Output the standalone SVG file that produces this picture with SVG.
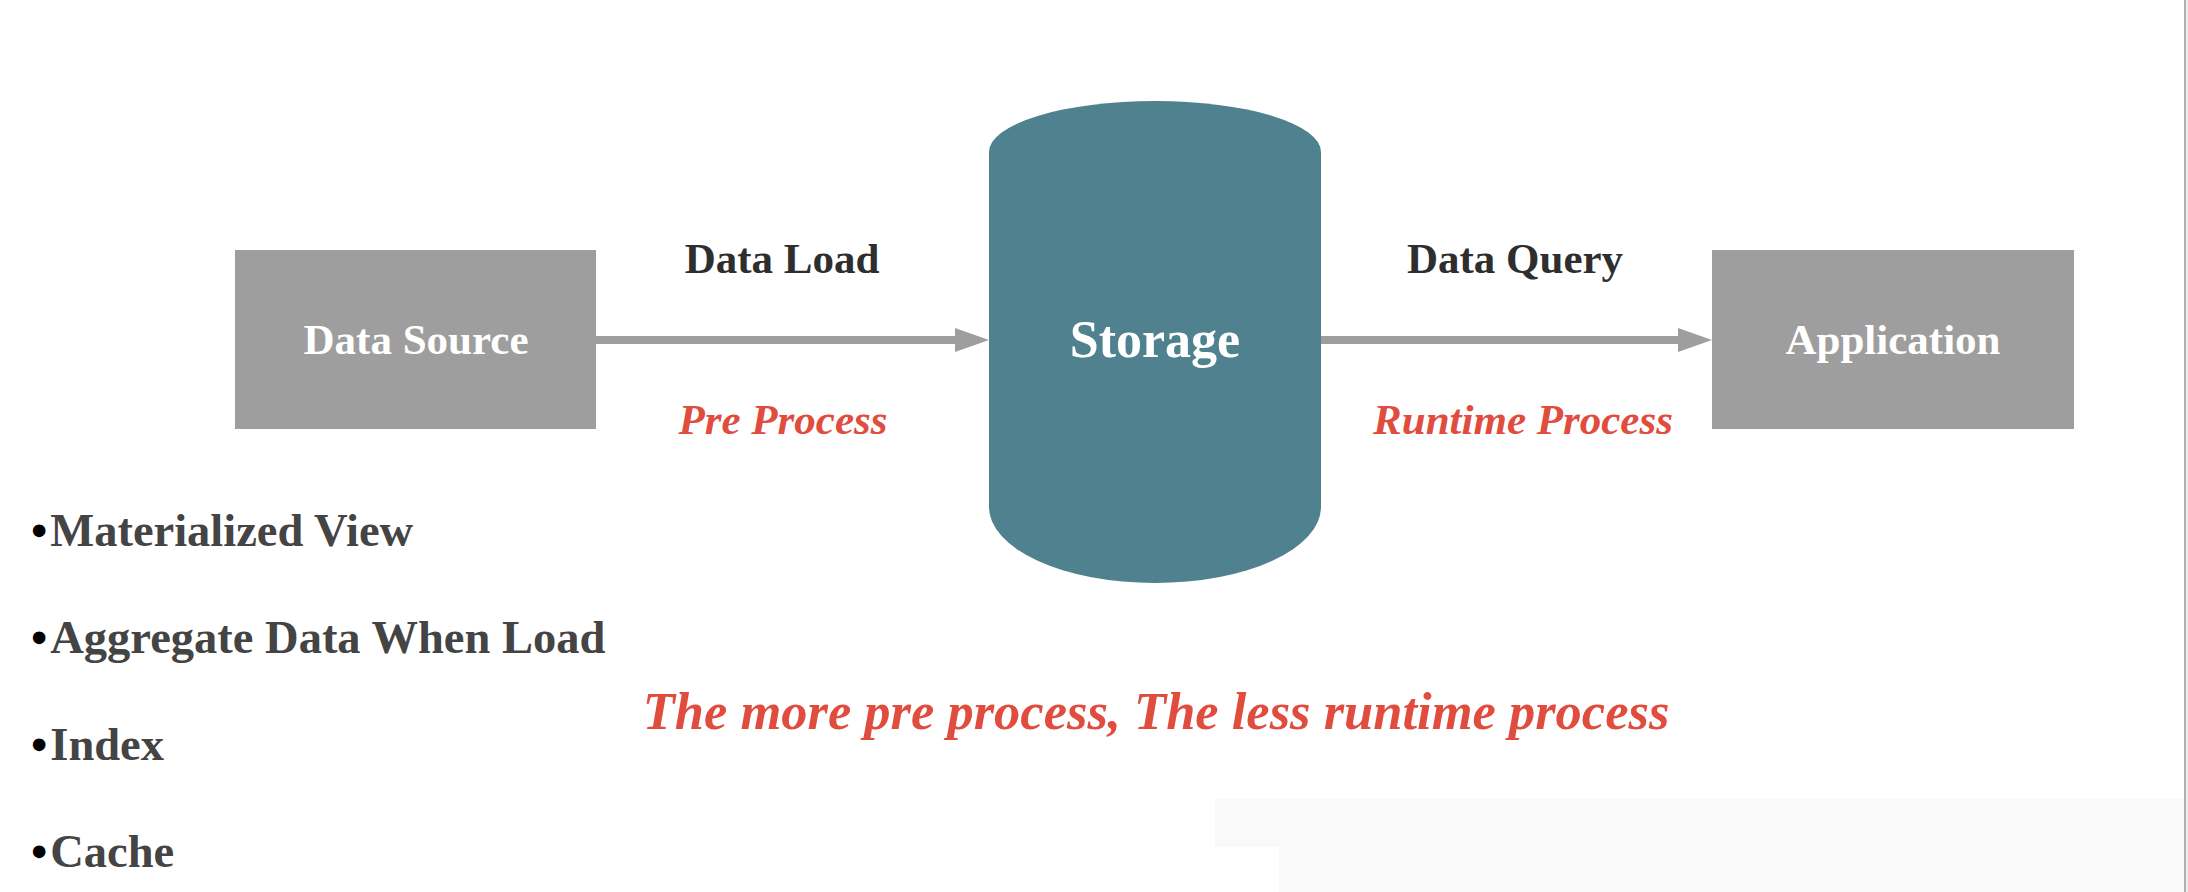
<svg xmlns="http://www.w3.org/2000/svg" width="2188" height="892" viewBox="0 0 2188 892">
  <defs>
    <style>
      .box { fill: #9e9e9e; }
      .cyl { fill: #50818f; }
      .t { font-family: "Liberation Serif", "Times New Roman", serif; font-weight: bold; }
      .white { fill: #ffffff; font-size: 43px; text-anchor: middle; }
      .big { font-size: 52px; }
      .lbl { fill: #2e2e2e; font-size: 43px; text-anchor: middle; }
      .red { fill: #e04c3e; font-style: italic; text-anchor: middle; font-size: 43px; }
      .huge { font-size: 52.5px; }
      .bul { fill: #444444; font-size: 46.5px; }
      .dot { fill: #000000; }
      .conn { stroke: #9e9e9e; stroke-width: 8; fill: none; }
    </style>
    <marker id="ah" markerUnits="userSpaceOnUse" markerWidth="34" markerHeight="24" refX="0" refY="12" orient="auto">
      <path d="M0,0 L34,12 L0,24 Z" fill="#9e9e9e"/>
    </marker>
  </defs>

  <rect x="0" y="0" width="2188" height="892" fill="#ffffff"/>

  <!-- background decorations -->
  <path d="M1215,799 H2184 V892 H1279 V847 H1215 Z" fill="#f9f9f9"/>
  <rect x="2184" y="0" width="2" height="892" fill="#b0b0b0"/>
  <rect x="2186" y="0" width="2" height="892" fill="#eeeeee"/>

  <g id="connectors">
    <line class="conn" x1="596" y1="340" x2="955" y2="340" marker-end="url(#ah)"/>
    <line class="conn" x1="1321" y1="340" x2="1678" y2="340" marker-end="url(#ah)"/>
    <text class="t lbl" x="782" y="273">Data Load</text>
    <text class="t red" x="783" y="434">Pre Process</text>
    <text class="t lbl" x="1515" y="273">Data Query</text>
    <text class="t red" x="1523" y="434">Runtime Process</text>
  </g>

  <g id="node-datasource">
    <rect class="box" x="235" y="250" width="361" height="179"/>
    <text class="t white" x="416" y="354">Data Source</text>
  </g>

  <g id="node-storage">
    <path class="cyl" d="M989,152 A166,51 0 0 1 1321,152 V507 A166,76 0 0 1 989,507 Z"/>
    <text class="t white big" x="1155" y="357">Storage</text>
  </g>

  <g id="node-application">
    <rect class="box" x="1712" y="250" width="362" height="179"/>
    <text class="t white" x="1893" y="354">Application</text>
  </g>

  <g id="bullets">
    <text class="t bul" x="31" y="546"><tspan class="dot">•</tspan><tspan dx="3">Materialized View</tspan></text>
    <text class="t bul" x="31" y="653"><tspan class="dot">•</tspan><tspan dx="3">Aggregate Data When Load</tspan></text>
    <text class="t bul" x="31" y="760"><tspan class="dot">•</tspan><tspan dx="3">Index</tspan></text>
    <text class="t bul" x="31" y="867"><tspan class="dot">•</tspan><tspan dx="3">Cache</tspan></text>
  </g>

  <g id="summary">
    <text class="t red huge" x="1156" y="729">The more pre process, The less runtime process</text>
  </g>
</svg>
